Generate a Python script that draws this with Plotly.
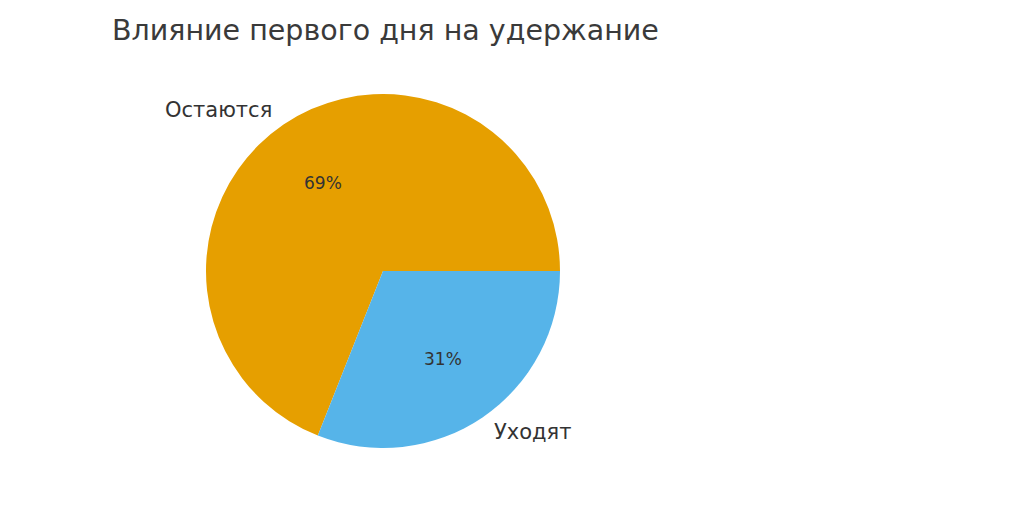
import math
import plotly.graph_objects as go

labels = ['Остаются', 'Уходят']
shares = [69, 31]
colors = ['#E69F00', '#56B4E9']

W, H = 1024, 511
off = 8  # page body margin around the figure div
cx, cy, r = 383 - off, 271 - off, 177  # pie centre and radius in figure px

total = sum(shares)
# matplotlib-like: first wedge starts at 3 o'clock and runs counterclockwise
# (plotly's counterclockwise pies end the first slice at `rotation`)
rot = 90 - shares[0] / total * 360

fig = go.Figure(go.Pie(
    labels=labels, values=shares, sort=False,
    direction='counterclockwise', rotation=rot,
    marker=dict(colors=colors, line=dict(width=0)),
    textinfo='none', hoverinfo='label+percent',
    domain=dict(x=[(cx - r) / W, (cx + r) / W],
                y=[1 - (cy + r) / H, 1 - (cy - r) / H]),
    showlegend=False,
))

# labels outside at 1.1 r, percentages inside at 0.6 r
start = 0.0
for lab, v in zip(labels, shares):
    mid = math.radians(start + v / total * 360 / 2)
    start += v / total * 360
    c, s = math.cos(mid), math.sin(mid)
    fig.add_annotation(x=(cx + 1.1 * r * c) / W, y=1 - (cy - 1.1 * r * s) / H,
                       xref='paper', yref='paper', text=lab, showarrow=False,
                       xanchor='right' if c < 0 else 'left', yanchor='middle',
                       font=dict(size=21, color='#333333'))
    fig.add_annotation(x=(cx + 0.6 * r * c) / W, y=1 - (cy - 0.6 * r * s) / H,
                       xref='paper', yref='paper', text=f'{v / total * 100:.0f}%',
                       showarrow=False, xanchor='center', yanchor='middle',
                       font=dict(size=17, color='#333333'))

fig.update_layout(
    width=W, height=H,
    margin=dict(l=0, r=0, t=0, b=0),
    paper_bgcolor='white', plot_bgcolor='white',
    font=dict(family='DejaVu Sans', color='#333333'),
    title=dict(text='Влияние первого дня на удержание', x=(112 - off) / W, xanchor='left',
               y=1 - (30 - off) / H, yanchor='middle', font=dict(size=28.5, color='#3a3a3a')),
)

fig.write_html('out.html')
